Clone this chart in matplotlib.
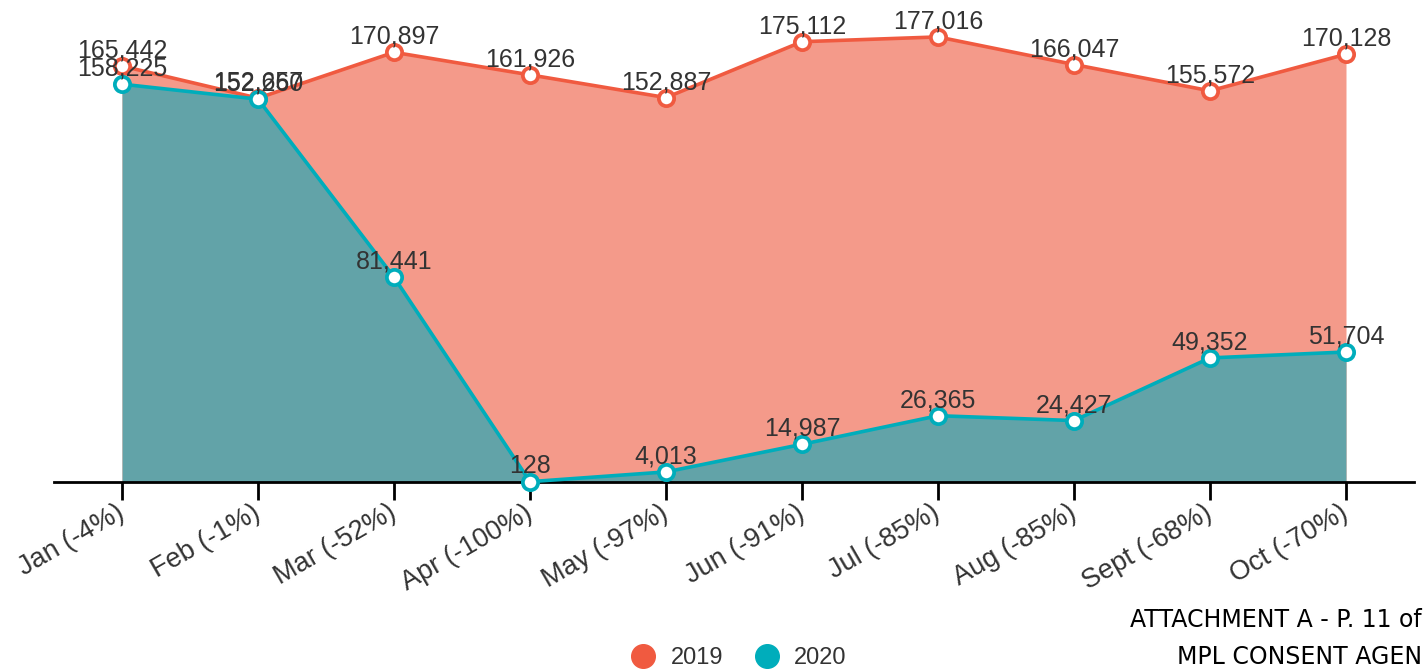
import matplotlib.pyplot as plt
from matplotlib.lines import Line2D

plt.rcParams["font.family"] = ["Liberation Sans", "DejaVu Sans"]

MONTHS = ["Jan (-4%)", "Feb (-1%)", "Mar (-52%)", "Apr (-100%)", "May (-97%)",
          "Jun (-91%)", "Jul (-85%)", "Aug (-85%)", "Sept (-68%)", "Oct (-70%)"]
VALUES_2019 = [165442, 152657, 170897, 161926, 152887, 175112, 177016, 166047, 155572, 170128]
VALUES_2020 = [158225, 152260, 81441, 128, 4013, 14987, 26365, 24427, 49352, 51704]

LINE_2019, FILL_2019 = "#f05a40", "#f49a8a"
LINE_2020, FILL_2020 = "#00adbb", "#62a3a8"
TEXT = "#333333"

W, H = 1427, 671
fig = plt.figure(figsize=(W / 100, H / 100), dpi=100)
ax = fig.add_axes([54 / W, (H - 482) / H, (1414 - 54) / W, 482 / H])

x = list(range(len(MONTHS)))
ax.fill_between(x, VALUES_2019, 0, color=FILL_2019, linewidth=0, zorder=1)
ax.fill_between(x, VALUES_2020, 0, color=FILL_2020, linewidth=0, zorder=2)
for vals, color in [(VALUES_2019, LINE_2019), (VALUES_2020, LINE_2020)]:
    ax.plot(x, vals, color=color, linewidth=2.6, marker="o", markersize=11,
            markerfacecolor="white", markeredgecolor=color, markeredgewidth=2.7,
            zorder=3, clip_on=False)
    for xi, v in zip(x, vals):
        ax.annotate(f"{v:,}", (xi, v), xytext=(0, 6), textcoords="offset points",
                    ha="center", va="baseline", fontsize=18, color=TEXT, zorder=4)

ax.set_xlim(-0.5, 9.5)
ax.set_ylim(0, 191700)
ax.set_yticks([])
for side in ["top", "right", "left"]:
    ax.spines[side].set_visible(False)
ax.spines["bottom"].set_linewidth(2)
ax.spines["bottom"].set_zorder(2.5)
ax.set_xticks(x)
ax.set_xticklabels(MONTHS, rotation=30, ha="right", va="center",
                   rotation_mode="anchor", fontsize=19.5, color=TEXT)
ax.tick_params(axis="x", length=13, width=2, pad=8)

handles = [Line2D([], [], linestyle="none", marker="o", markersize=17,
                  markerfacecolor=c, markeredgecolor=c) for c in (LINE_2019, LINE_2020)]
fig.legend(handles, ["2019", "2020"], loc="center", bbox_to_anchor=(733 / W, 1 - 658 / H),
           ncol=2, frameon=False, fontsize=17, handletextpad=0.15, columnspacing=0.85,
           labelcolor=TEXT)

fig.text(1422 / W, 1 - 620 / H, "ATTACHMENT A - P. 11 of", ha="right", va="center",
         fontsize=17, family=["Liberation Sans Narrow", "DejaVu Sans"], color="black")
fig.text(1422 / W, 1 - 657 / H, "MPL CONSENT AGEN", ha="right", va="center",
         fontsize=17, family=["Liberation Sans Narrow", "DejaVu Sans"], color="black")

fig.savefig("out.png", dpi=100)
